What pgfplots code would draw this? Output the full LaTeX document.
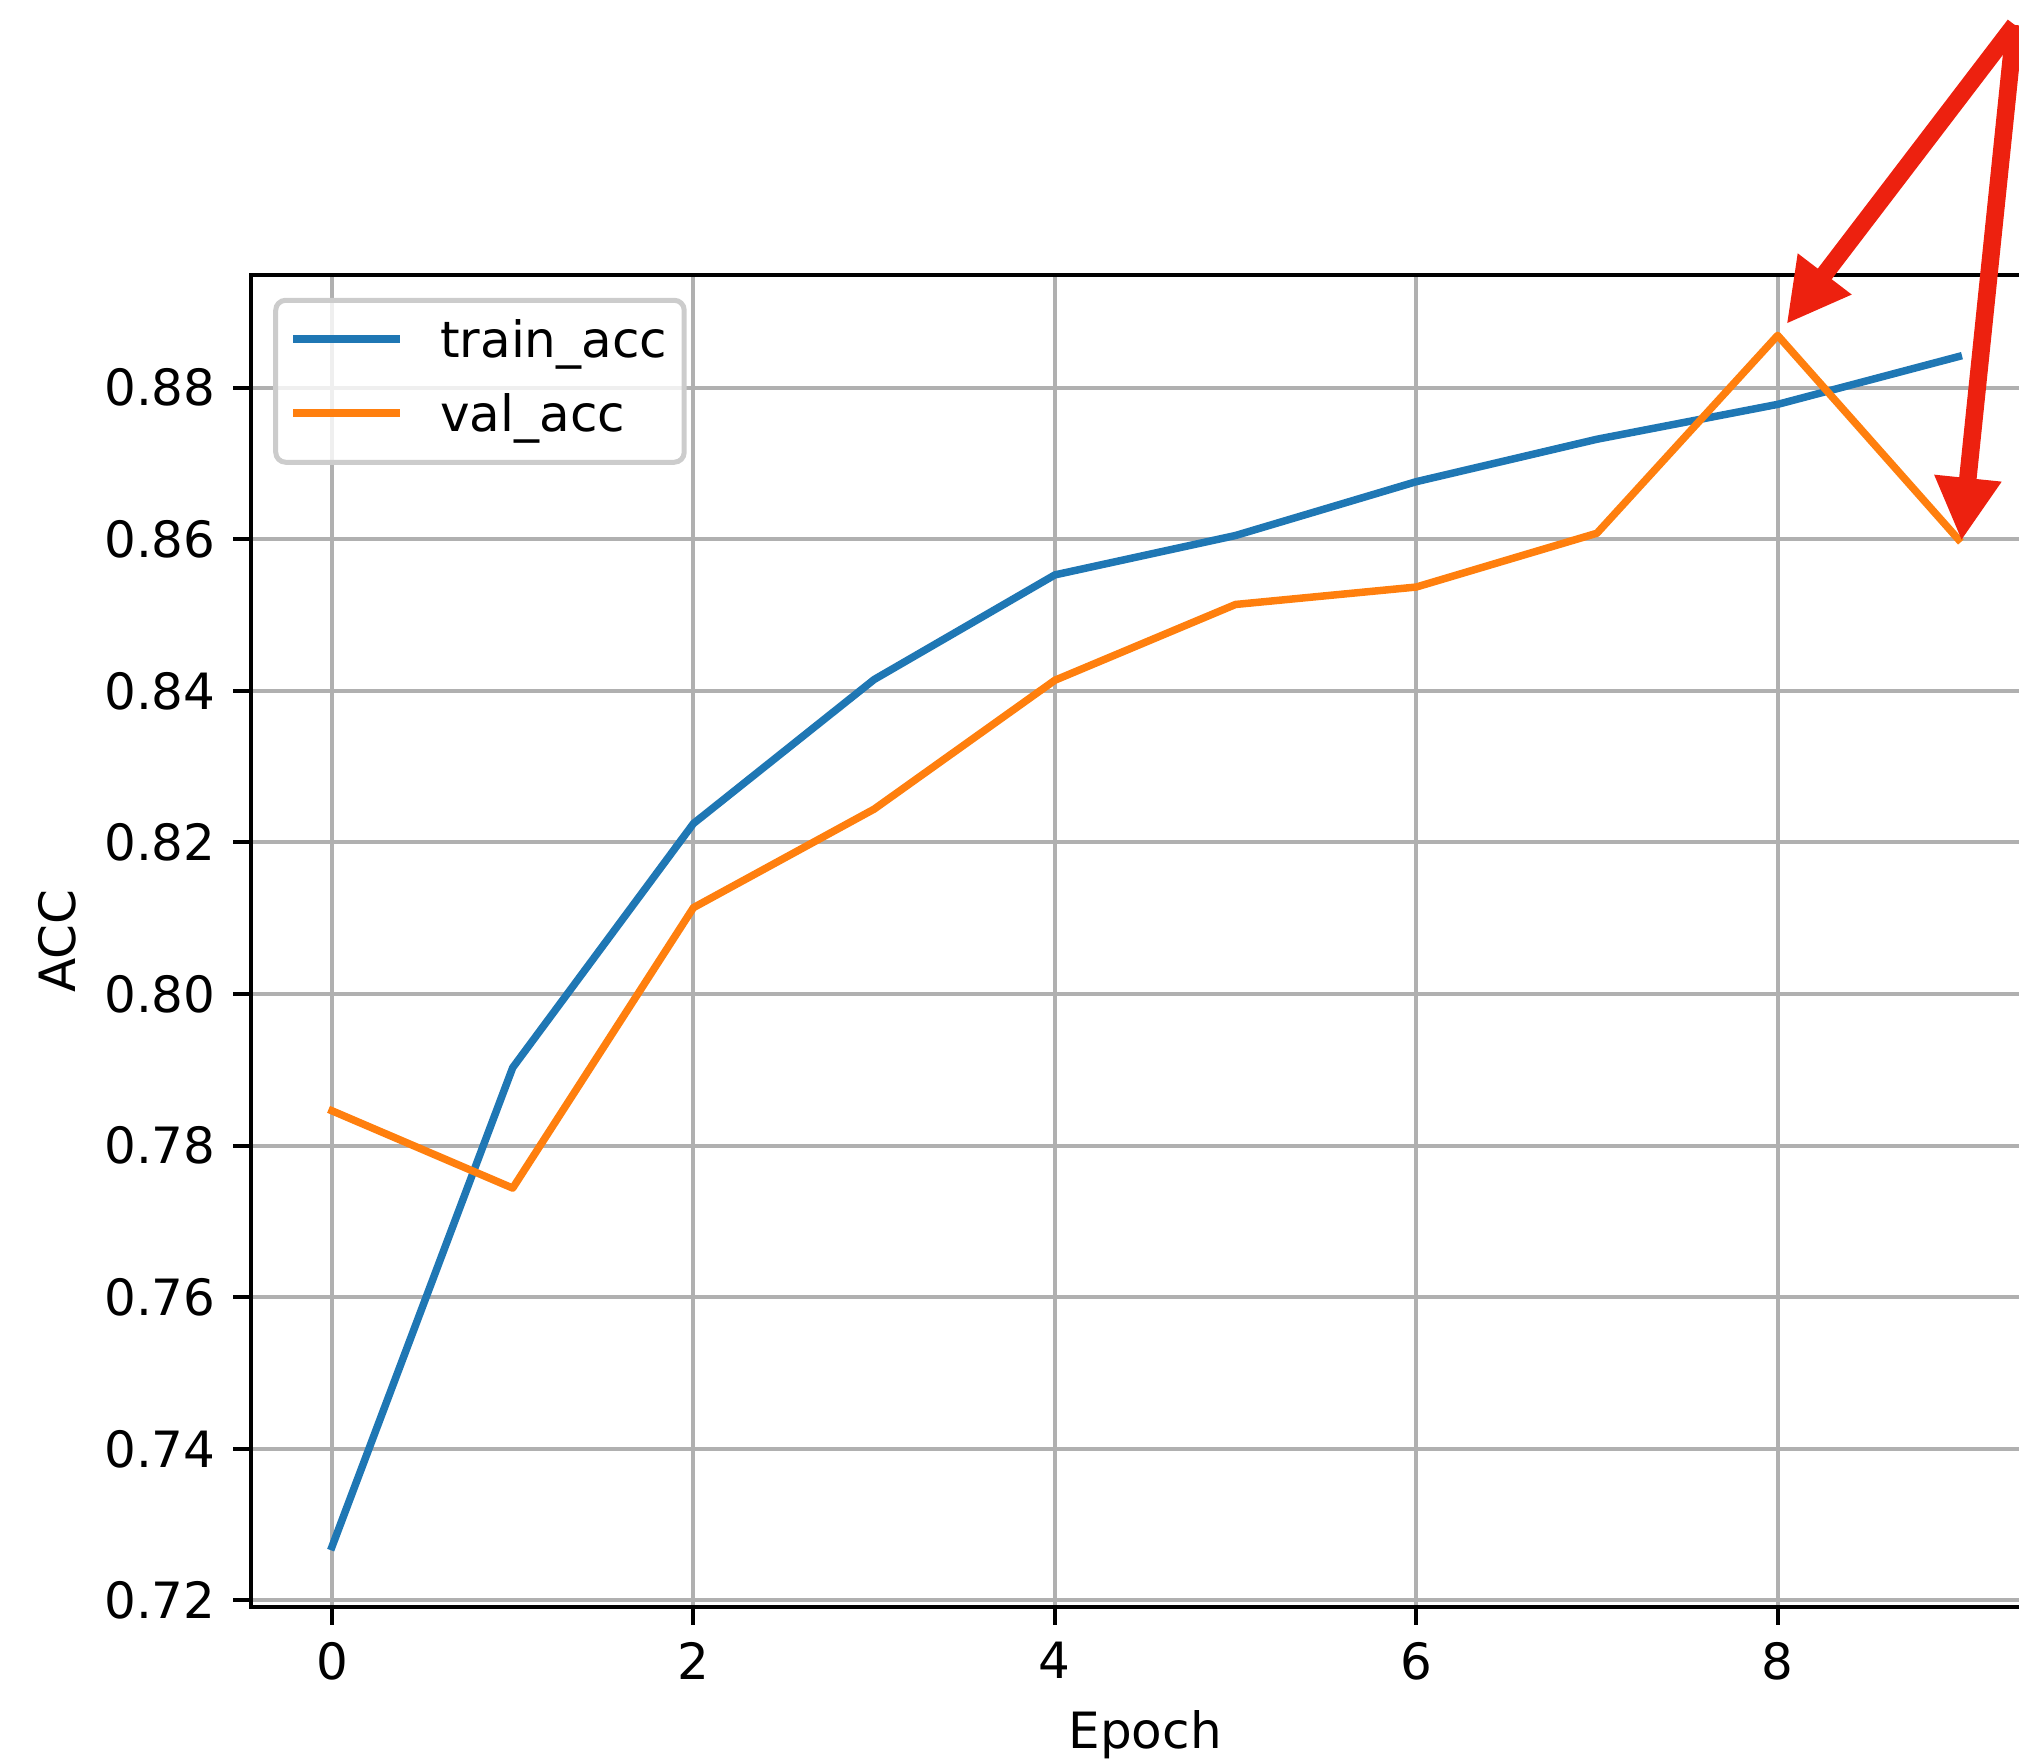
\documentclass[border=0pt]{standalone}
\usepackage{fontspec}
\setmainfont{DejaVu Sans}
\usepackage{pgfplots}
\pgfplotsset{compat=1.18}
\usetikzlibrary{arrows.meta}
\definecolor{mplblue}{HTML}{1F77B4}
\definecolor{mplorange}{HTML}{FF7F0E}
\definecolor{gridgray}{HTML}{B0B0B0}
\definecolor{legedge}{HTML}{CCCCCC}
\definecolor{arrowred}{RGB}{237,33,15}
\begin{document}
\begin{tikzpicture}
\useasboundingbox (-50.14pt,-30.54pt) rectangle (353.66pt,321.46pt);
\clip (-50.14pt,-30.54pt) rectangle (353.66pt,321.46pt);
\begin{axis}[
  scale only axis, width=357.8pt, height=266.5pt,
  at={(0pt,0pt)}, anchor=south west,
  xmin=-0.45, xmax=9.45, ymin=0.7191, ymax=0.8949,
  xtick={0,2,4,6,8},
  ytick={0.72,0.74,0.76,0.78,0.80,0.82,0.84,0.86,0.88},
  scaled y ticks=false,
  /pgf/number format/assume math mode=true,
  yticklabel style={/pgf/number format/.cd, fixed, fixed zerofill, precision=2},
  tick label style={font=\fontsize{10}{12}\selectfont},
  grid=major,
  major grid style={gridgray, line width=0.8pt},
  axis line style={black, line width=0.8pt},
  tick style={black, line width=0.8pt},
  major tick length=3.5pt,
  tick align=outside,
  tick pos=left,
  xlabel={Epoch}, ylabel={ACC},
  every axis x label/.style={at={(rel axis cs:0.5,-0.1063)}, anchor=base, font=\fontsize{10}{12}\selectfont},
  every axis y label/.style={at={(rel axis cs:-0.0977,0.5)}, rotate=90, anchor=base, font=\fontsize{10}{12}\selectfont},
  clip=false,
  legend cell align=left,
  legend image code/.code={\draw[#1] (0pt,3.66pt) -- (20pt,3.66pt);},
  legend style={at={(rel axis cs:0,1)}, anchor=north west, xshift=4.5pt, yshift=-4.6pt,
    draw=legedge, line width=1pt, rounded corners=2pt,
    fill=white, fill opacity=0.8, text opacity=1,
    inner xsep=3.4pt, inner ysep=4pt, column sep=8pt, row sep=5.2pt,
    nodes={inner sep=0pt, text height=7.4pt, text depth=2.2pt, anchor=base west},
    font=\fontsize{10}{12}\selectfont},
]
\addplot[mplblue, line width=1.5pt, line cap=rect, line join=round] coordinates {
(0,0.7271) (1,0.7903) (2,0.8225) (3,0.8415) (4,0.8553) (5,0.8605) (6,0.8676) (7,0.8732) (8,0.8778) (9,0.8841)};
\addlegendentry{train\_acc}
\addplot[mplorange, line width=1.5pt, line cap=rect, line join=round] coordinates {
(0,0.7846) (1,0.7744) (2,0.8114) (3,0.8244) (4,0.8414) (5,0.8514) (6,0.8537) (7,0.8608) (8,0.8869) (9,0.8600)};
\addlegendentry{val\_acc}
\coordinate (s) at (axis cs:9.312,0.92786);
\coordinate (t1) at (axis cs:8.049,0.8884);
\coordinate (t2) at (axis cs:9.017,0.8598);
\end{axis}
\draw[arrowred, line width=3.5pt, -{Triangle[length=12.6pt,width=12.6pt]}] (s) -- (t1);
\draw[arrowred, line width=3.5pt, -{Triangle[length=12.6pt,width=12.6pt]}] (s) -- (t2);
\end{tikzpicture}
\end{document}
